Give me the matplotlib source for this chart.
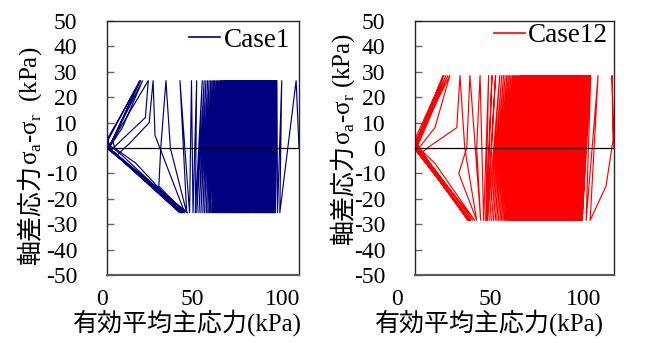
#!/usr/bin/env python3
"""
Cyclic triaxial effective stress paths for Case1 and Case12, side by side.
Deviator stress (σa-σr) against mean effective principal stress p'.

Outputs: out.png
"""

import matplotlib
matplotlib.use("Agg")
import matplotlib.pyplot as plt
import matplotlib.transforms as mtransforms
from matplotlib.lines import Line2D
import numpy as np

OUT_PNG = "out.png"
FIG_W, FIG_H = 645, 343
SERIF = "Liberation Serif"
JA_FAMILY = ["Liberation Serif", "Noto Sans CJK JP"]

# ---- Case1 (blue): peaks of each load cycle, p' in kPa -------------------
CASE1_Q_COMP = 26.5
CASE1_Q_EXT = -25.5
case1_head_p = [100.0, 98.5]
case1_head_q = [0.0, 26.5]
# p' at each extension peak, then at the following compression peak
case1_bot = [90.0, 88.8,
             87.7, 87.3, 86.8, 86.4, 85.9, 85.5, 85.1, 84.6, 84.2,
             83.8, 83.3, 82.9, 82.5, 82.0, 81.6, 81.2, 80.7, 80.3, 79.9,
             79.4, 79.0, 78.6, 78.1, 77.7, 77.3, 76.8, 76.4, 76.0, 75.5,
             74.9, 74.5, 74.0, 73.6, 73.2, 72.7, 72.3, 71.9, 71.4, 71.0,
             70.5, 70.0, 69.6, 69.2, 68.7, 68.3, 67.9, 67.4, 67.0, 66.6,
             66.0, 65.6, 65.1, 64.6, 64.2, 63.6, 63.2, 62.6, 62.2, 61.6,
             61.1, 60.6, 60.0, 59.5, 58.9, 58.2, 57.6, 56.9, 56.2, 55.5,
             54.8, 54.0, 53.3, 52.5, 51.7, 50.8, 49.9, 48.9, 47.9, 46.8,
             46.0, 44.8, 43.0]
case1_top = [91.0, 88.5,
             88.0, 87.6, 87.1, 86.7, 86.2, 85.8, 85.4, 84.9, 84.5,
             84.1, 83.6, 83.2, 82.8, 82.3, 81.9, 81.5, 81.0, 80.6, 80.2,
             79.7, 79.3, 78.9, 78.4, 78.0, 77.6, 77.1, 76.7, 76.3, 75.8,
             75.4, 75.0, 74.5, 74.1, 73.7, 73.2, 72.8, 72.4, 71.9, 71.5,
             71.1, 70.6, 70.2, 69.8, 69.3, 68.9, 68.5, 68.0, 67.6, 67.2,
             66.7, 66.3, 65.9, 65.4, 65.0, 64.5, 64.1, 63.6, 63.2, 62.7,
             62.2, 61.7, 61.2, 60.7, 60.2, 59.6, 59.1, 58.5, 57.9, 57.3,
             56.7, 56.0, 55.4, 54.7, 54.0, 53.2, 52.4, 51.5, 50.6, 49.6,
             46.7, 44.0, 38.0]
# last cycles, where the path runs back through the origin (butterfly)
case1_tail_p = [41.5, 33.0, 30.7, 28.0, 27.0, 40.5, 25.0, 24.0, 22.0, 12.0,
                5.0, 39.0, 15.0, 4.0, 3.0, 21.5, 20.0, 6.0, 2.0, 40.0,
                8.0, 1.5, 18.5, 8.0, 1.0, 39.0, 2.0, 0.5, 17.0, 3.0,
                0.5, 38.0, 1.0, 0.5, 17.5, 2.0, 0.5, 42.0, 1.0]
case1_tail_q = [-25.5, 0.0, 26.5, 0.0, -15.0, -25.5, 5.0, 26.5, 10.0, 2.0,
                -3.0, -25.5, -6.0, 0.0, 3.0, 26.5, 12.0, 2.0, -1.0, -25.5,
                -3.0, 1.0, 26.5, 8.0, 0.0, -25.5, -0.5, 3.0, 26.5, 3.0,
                0.0, -25.5, 0.0, 4.0, 26.5, 2.0, -0.5, -25.5, 0.0]

# ---- Case12 (red) -----------------------------------------------------------
CASE12_Q_COMP = 28.5
CASE12_Q_EXT = -28.5
case12_head_p = [100.0, 99.0, 99.5, 96.0]
case12_head_q = [0.0, 28.5, 3.0, -15.0]
case12_bot = [88.0, 86.0,
              84.0, 83.6, 83.1, 82.6, 82.1, 81.7, 81.2, 80.7, 80.2,
              79.8, 79.3, 78.8, 78.3, 77.9, 77.4, 76.9, 76.4, 76.0, 75.5,
              75.0, 74.5, 74.1, 73.6, 73.1, 72.6, 72.2, 71.7, 71.2, 70.7,
              70.2, 69.7, 69.2, 68.7, 68.3, 67.8, 67.3, 66.8, 66.4, 65.9,
              65.4, 64.9, 64.4, 63.9, 63.4, 62.9, 62.5, 62.0, 61.5, 61.0,
              60.5, 60.0, 59.5, 59.0, 58.6, 58.0, 57.5, 57.0, 56.6, 56.0,
              55.5, 55.0, 54.5, 54.0, 53.5, 53.0, 52.5, 52.0, 51.5, 51.0,
              50.5, 50.0, 49.4, 48.9, 48.4, 47.8, 47.2, 46.6, 46.0, 45.4,
              44.8, 44.1, 43.4, 42.7, 41.9, 41.1, 40.3, 39.4, 38.5, 37.5,
              36.5, 36.0, 35.5]
case12_top = [92.0, 88.3,
              87.8, 87.4, 86.9, 86.4, 85.9, 85.5, 85.0, 84.5, 84.0,
              83.6, 83.1, 82.6, 82.1, 81.7, 81.2, 80.7, 80.2, 79.8, 79.3,
              78.8, 78.3, 77.9, 77.4, 76.9, 76.4, 76.0, 75.5, 75.0, 74.5,
              74.1, 73.6, 73.1, 72.6, 72.2, 71.7, 71.2, 70.7, 70.3, 69.8,
              69.3, 68.8, 68.4, 67.9, 67.4, 66.9, 66.5, 66.0, 65.5, 65.0,
              64.6, 64.1, 63.6, 63.1, 62.7, 62.2, 61.7, 61.2, 60.8, 60.3,
              59.8, 59.3, 58.9, 58.4, 57.9, 57.4, 57.0, 56.5, 56.0, 55.5,
              55.0, 54.5, 54.0, 53.5, 53.0, 52.4, 51.9, 51.3, 50.7, 50.1,
              49.5, 48.9, 48.2, 47.5, 46.8, 46.1, 45.3, 44.5, 43.6, 42.6,
              40.5, 38.7, 37.0]
case12_tail_p = [34.5, 32.7, 31.0, 33.0, 27.6, 26.0, 22.0, 31.0, 25.0, 22.6,
                 21.0, 8.0, 3.0, 30.0, 10.0, 2.0, 1.0, 17.5, 10.0, 2.0,
                 29.0, 3.0, 0.5, 16.5, 2.0, 0.5, 28.0, 1.0, 0.5, 15.5,
                 1.0, 0.5, 27.5, 0.5, 0.3, 14.5, 0.5, 27.0, 0.5, 14.0,
                 0.5, 26.5, 0.5]
case12_tail_q = [-28.5, 28.5, 0.0, -28.5, 28.5, 0.0, -10.0, -28.5, 0.0, 28.5,
                 8.0, 1.0, -2.0, -28.5, -6.0, 0.0, 3.0, 28.5, 8.0, 0.0,
                 -28.5, -2.0, 2.0, 28.5, 2.0, -1.0, -28.5, -1.0, 3.0, 28.5,
                 1.0, -1.0, -28.5, 0.0, 4.0, 28.5, 0.0, -28.5, 0.0, 28.5,
                 2.0, -28.5, 0.0]

Y_TICKS = list(range(-50, 51, 10))
X_TICKS = [0, 50, 100]
Y_LABEL_JA = "軸差応力"
Y_LABEL_SYM = "σ$_\\mathrm{a}$-σ$_\\mathrm{r}$"
X_LABEL = "有効平均主応力(kPa)"


def build_path(head_p, head_q, bot, top, q_comp, q_ext, tail_p, tail_q):
    p, q = list(head_p), list(head_q)
    for b, t in zip(bot, top):
        p += [b, t]
        q += [q_ext, q_comp]
    p += tail_p
    q += tail_q
    return np.array(p), np.array(q)


def px(x, y):
    # pixel position in the 645x343 canvas -> figure fraction
    return x / FIG_W, 1 - y / FIG_H


def set_rc():
    plt.rcParams["font.family"] = SERIF
    plt.rcParams["mathtext.fontset"] = "custom"
    plt.rcParams["mathtext.rm"] = SERIF
    plt.rcParams["axes.unicode_minus"] = False


def style_axes(ax, fig, xoff):
    ax.set_xlim(0, 100)
    ax.set_ylim(-50, 50)
    ax.set_xticks(X_TICKS)
    ax.set_yticks(Y_TICKS)
    ax.tick_params(axis="y", direction="in", length=5, width=1.0,
                   color="0.4", pad=21.5, labelsize=17)
    ax.tick_params(axis="x", length=0, pad=10, labelsize=17)
    shift = mtransforms.ScaledTranslation(xoff / 100, 0, fig.dpi_scale_trans)
    for lab in ax.get_xticklabels():
        lab.set_horizontalalignment("right")
        lab.set_transform(lab.get_transform() + shift)
    for side in ("left", "top", "right"):
        ax.spines[side].set_color("0.15")
        ax.spines[side].set_linewidth(1.0)
    ax.spines["bottom"].set_color("0.35")
    ax.spines["bottom"].set_linewidth(1.5)
    ax.axhline(0, color="black", lw=0.9, zorder=3)


def main() -> int:
    set_rc()
    fig = plt.figure(figsize=(FIG_W / 100, FIG_H / 100), dpi=100)
    ax1 = fig.add_axes([107 / FIG_W, 1 - 275 / FIG_H, 192 / FIG_W, 254 / FIG_H])
    ax2 = fig.add_axes([415 / FIG_W, 1 - 275 / FIG_H, 199 / FIG_W, 254 / FIG_H])

    panels = [
        (ax1, "#000080", "Case1",
         build_path(case1_head_p, case1_head_q, case1_bot, case1_top,
                    CASE1_Q_COMP, CASE1_Q_EXT, case1_tail_p, case1_tail_q),
         +1, (0.953, 0.925), (37, 165), "  ", 0.417),
        (ax2, "#ff0000", "Case12",
         build_path(case12_head_p, case12_head_q, case12_bot, case12_top,
                    CASE12_Q_COMP, CASE12_Q_EXT, case12_tail_p, case12_tail_q),
         -12.5, (0.970, 0.941), (350, 145), " ", 0.372),
    ]

    for ax, color, name, (p, q), xoff, leg_at, ylab_at, gap, xlab_x in panels:
        ax.plot(p, q, color=color, lw=0.85, zorder=2)
        style_axes(ax, fig, xoff)
        ax.legend(handles=[Line2D([], [], color=color, lw=1.2)], labels=[name],
                  loc="center right", bbox_to_anchor=leg_at, frameon=False,
                  prop={"family": SERIF, "size": 19.5},
                  handlelength=1.15, handletextpad=0.12,
                  borderpad=0, borderaxespad=0)
        ax.text(xlab_x, -0.189, X_LABEL, transform=ax.transAxes,
                ha="center", va="center", fontsize=18, family=JA_FAMILY)
        # y label: Japanese part and symbol part joined end to end
        fig.text(*px(*ylab_at), Y_LABEL_JA, rotation=90, rotation_mode="anchor",
                 ha="right", va="baseline", fontsize=18, family=JA_FAMILY)
        fig.text(*px(*ylab_at), Y_LABEL_SYM + gap + "(kPa)", rotation=90,
                 rotation_mode="anchor", ha="left", va="baseline",
                 fontsize=18, family=SERIF)

    fig.savefig(OUT_PNG, dpi=100)
    return 0


if __name__ == "__main__":
    raise SystemExit(main())
